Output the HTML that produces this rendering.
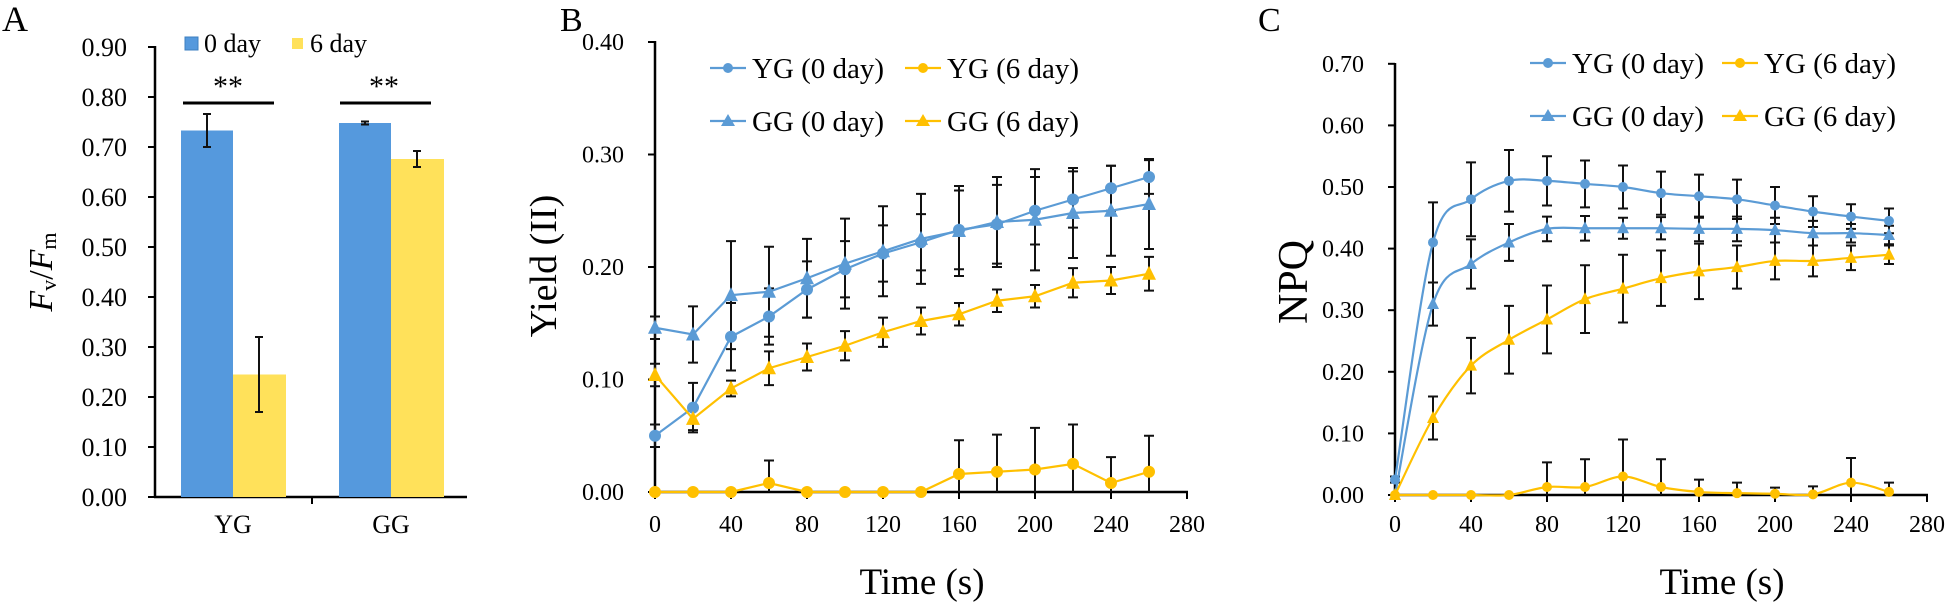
<!DOCTYPE html>
<html>
<head>
<meta charset="utf-8">
<style>
  html, body { margin: 0; padding: 0; background: #ffffff; }
  svg { display: block; font-family: "Liberation Serif", "Times New Roman", serif; }
</style>
</head>
<body>
<svg id="fig" width="1949" height="602" viewBox="0 0 1949 602" xmlns="http://www.w3.org/2000/svg">
  <!-- Panel A static -->
  <g>
    <text x="2" y="31" font-size="36">A</text>
    <line x1="155" y1="46" x2="155" y2="498" stroke="#000" stroke-width="2.5"/>
    <line x1="154" y1="497" x2="467" y2="497" stroke="#000" stroke-width="2.5"/>
    <text transform="translate(52,272) rotate(-90)" text-anchor="middle" font-size="34"><tspan font-style="italic">F</tspan><tspan font-size="22" dy="4">v</tspan><tspan dy="-4">/</tspan><tspan font-style="italic">F</tspan><tspan font-size="22" dy="4">m</tspan></text>
    <g>
      <rect x="185" y="37" width="13" height="13" fill="#5599dd" stroke="#3d7fc0" stroke-width="1"/>
      <text x="204" y="52" font-size="26">0 day</text>
      <rect x="292" y="38" width="11" height="11" fill="#ffe15a"/>
      <text x="310" y="52" font-size="26">6 day</text>
    </g>
    <g>
      <line x1="183" y1="103" x2="274" y2="103" stroke="#000" stroke-width="3"/>
      <text x="228" y="96" text-anchor="middle" font-size="30">**</text>
    </g>
    <g>
      <line x1="340" y1="103" x2="431" y2="103" stroke="#000" stroke-width="3"/>
      <text x="384" y="96" text-anchor="middle" font-size="30">**</text>
    </g>
    <g id="a-plot"></g>
  </g>

  <!-- Panel B static -->
  <g>
    <text x="560" y="31" font-size="34">B</text>
    <line x1="655" y1="41" x2="655" y2="493" stroke="#000" stroke-width="2.5"/>
    <line x1="654" y1="492" x2="1188" y2="492" stroke="#000" stroke-width="2.5"/>
    <text transform="translate(556,266) rotate(-90)" text-anchor="middle" font-size="38">Yield (II)</text>
    <text x="922" y="594" text-anchor="middle" font-size="37">Time (s)</text>
    <g id="b-plot"></g>
  </g>

  <!-- Panel C static -->
  <g>
    <text x="1258" y="31" font-size="34">C</text>
    <line x1="1395" y1="63" x2="1395" y2="496" stroke="#000" stroke-width="2.5"/>
    <line x1="1394" y1="495" x2="1928" y2="495" stroke="#000" stroke-width="2.5"/>
    <text transform="translate(1307,282) rotate(-90)" text-anchor="middle" font-size="42">NPQ</text>
    <text x="1722" y="594" text-anchor="middle" font-size="37">Time (s)</text>
    <g id="c-plot"></g>
  </g>
</svg>

<script>
// ---------- Panel A data ----------
const barCategories = ["YG", "GG"];
const barDay0 = [0.733, 0.748];
const barDay6 = [0.245, 0.676];
const barErr0 = [0.033, 0.003];
const barErr6 = [0.075, 0.016];
const aTicks = ["0.00","0.10","0.20","0.30","0.40","0.50","0.60","0.70","0.80","0.90"];

// ---------- Panel B data ----------
const timeB = [0, 20, 40, 60, 80, 100, 120, 140, 160, 180, 200, 220, 240, 260];
const bYG0 = [0.050, 0.075, 0.138, 0.156, 0.180, 0.198, 0.212, 0.222, 0.233, 0.238, 0.250, 0.260, 0.270, 0.280];
const bYG0err = [0.010, 0.022, 0.030, 0.025, 0.025, 0.025, 0.025, 0.025, 0.035, 0.035, 0.030, 0.025, 0.020, 0.015];
const bGG0 = [0.146, 0.140, 0.175, 0.178, 0.190, 0.203, 0.214, 0.225, 0.232, 0.240, 0.242, 0.248, 0.250, 0.256];
const bGG0err = [0.010, 0.025, 0.048, 0.040, 0.035, 0.040, 0.040, 0.040, 0.040, 0.040, 0.045, 0.040, 0.040, 0.040];
const bYG6 = [0, 0, 0, 0.008, 0, 0, 0, 0, 0.016, 0.018, 0.020, 0.025, 0.008, 0.018];
const bYG6err = [0, 0, 0, 0.020, 0, 0, 0, 0, 0.030, 0.033, 0.037, 0.035, 0.023, 0.032];
const bGG6 = [0.104, 0.065, 0.092, 0.110, 0.120, 0.130, 0.142, 0.152, 0.158, 0.170, 0.174, 0.186, 0.188, 0.194];
const bGG6err = [0.010, 0.010, 0.007, 0.015, 0.012, 0.013, 0.013, 0.012, 0.010, 0.010, 0.010, 0.013, 0.012, 0.015];
const bYTicks = ["0.00","0.10","0.20","0.30","0.40"];
const xTickLabels = ["0","40","80","120","160","200","240","280"];

// ---------- Panel C data ----------
const timeC = [0, 20, 40, 60, 80, 100, 120, 140, 160, 180, 200, 220, 240, 260];
const cYG0 = [0.025, 0.410, 0.480, 0.510, 0.510, 0.505, 0.500, 0.490, 0.485, 0.480, 0.470, 0.460, 0.452, 0.445];
const cYG0err = [0.005, 0.065, 0.060, 0.050, 0.040, 0.038, 0.035, 0.035, 0.035, 0.032, 0.030, 0.025, 0.020, 0.020];
const cGG0 = [0, 0.310, 0.375, 0.410, 0.432, 0.433, 0.433, 0.433, 0.432, 0.432, 0.430, 0.425, 0.425, 0.422];
const cGG0err = [0, 0.035, 0.040, 0.030, 0.020, 0.020, 0.017, 0.018, 0.020, 0.020, 0.020, 0.020, 0.015, 0.015];
const cYG6 = [0, 0, 0, 0, 0.013, 0.013, 0.030, 0.013, 0.005, 0.003, 0.002, 0.001, 0.020, 0.005];
const cYG6err = [0, 0, 0, 0, 0.040, 0.045, 0.060, 0.045, 0.020, 0.017, 0.010, 0.013, 0.040, 0.015];
const cGG6 = [0, 0.125, 0.210, 0.252, 0.285, 0.318, 0.335, 0.352, 0.363, 0.370, 0.380, 0.380, 0.385, 0.390];
const cGG6err = [0, 0.035, 0.045, 0.055, 0.055, 0.055, 0.055, 0.045, 0.045, 0.035, 0.030, 0.025, 0.020, 0.015];
const cYTicks = ["0.00","0.10","0.20","0.30","0.40","0.50","0.60","0.70"];

const NS = "http://www.w3.org/2000/svg";
const BLUE = "#5b9bd5", YELLOW = "#ffc000";
function mk(tag, attrs, parent) {
  const e = document.createElementNS(NS, tag);
  for (const k in attrs) e.setAttribute(k, attrs[k]);
  parent.appendChild(e);
  return e;
}

// ---------- Panel A ----------
(function () {
  const g = document.getElementById("a-plot");
  const yA = v => 497 - v * 500;
  const groupX = i => 233 + i * 158; // category centre
  aTicks.forEach((lab, i) => {
    const v = parseFloat(lab);
    const t = mk("line", {x1: 148, x2: 155, y1: yA(v), y2: yA(v), stroke: "#000", "stroke-width": 2}, g);
    
    
    const tx = mk("text", {x: 127, y: yA(v) + 9, "text-anchor": "end", "font-size": 26}, g);
    
    
    tx.textContent = lab;
  });
  const mid = mk("line", {x1: 312, x2: 312, y1: 497, y2: 504, stroke: "#000", "stroke-width": 2}, g);
  
  
  barCategories.forEach((cat, i) => {
    const cx = groupX(i);
    const b0 = mk("rect", {x: cx - 52, y: yA(barDay0[i]), width: 52, height: yA(0) - yA(barDay0[i]), fill: "#5599dd"}, g);
    
    
    const b6 = mk("rect", {x: cx, y: yA(barDay6[i]), width: 53, height: yA(0) - yA(barDay6[i]), fill: "#ffe15a"}, g);
    
    
    [[cx - 26, barDay0[i], barErr0[i]], [cx + 26, barDay6[i], barErr6[i]]].forEach(([x, v, e]) => {
      const eg = mk("path", {d: `M${x},${yA(v + e)}V${yA(v - e)}M${x - 4},${yA(v + e)}h8M${x - 4},${yA(v - e)}h8`, stroke: "#111", "stroke-width": 2, fill: "none"}, g);
      
      
    });
    const lab = mk("text", {x: cx, y: 533, "text-anchor": "middle", "font-size": 26}, g);
    
    
    lab.textContent = cat;
  });
})();

// ---------- line chart helpers ----------
function smoothPath(pts) {
  let d = `M${pts[0][0]},${pts[0][1]}`;
  for (let i = 0; i < pts.length - 1; i++) {
    const p0 = pts[Math.max(0, i - 1)], p1 = pts[i], p2 = pts[i + 1], p3 = pts[Math.min(pts.length - 1, i + 2)];
    const c1x = p1[0] + (p2[0] - p0[0]) / 6, c1y = p1[1] + (p2[1] - p0[1]) / 6;
    const c2x = p2[0] - (p3[0] - p1[0]) / 6, c2y = p2[1] - (p3[1] - p1[1]) / 6;
    d += ` C${c1x},${c1y} ${c2x},${c2y} ${p2[0]},${p2[1]}`;
  }
  return d;
}
function linePanel(gid, xs, yf, xf, series, yTicks, smooth, r, legendX, legendY, colGap) {
  const g = document.getElementById(gid);
  yTicks.forEach(lab => {
    const v = parseFloat(lab);
    const t = mk("line", {x1: xf(0) - 7, x2: xf(0), y1: yf(v), y2: yf(v), stroke: "#000", "stroke-width": 2}, g);
    
    
    const tx = mk("text", {x: xf(0) - 31, y: yf(v) + 8, "text-anchor": "end", "font-size": 24}, g);
    
    
    tx.textContent = lab;
  });
  xTickLabels.forEach(lab => {
    const v = parseFloat(lab);
    const t = mk("line", {x1: xf(v), x2: xf(v), y1: yf(0), y2: yf(0) + 7, stroke: "#000", "stroke-width": 2}, g);
    
    
    const tx = mk("text", {x: xf(v), y: 532, "text-anchor": "middle", "font-size": 24}, g);
    
    
    tx.textContent = lab;
  });
  // error bars first
  series.forEach(s => {
    s.vals.forEach((v, i) => {
      const e = s.err[i];
      if (e <= 0) return;
      const x = xf(xs[i]);
      const lo = Math.max(0, v - e);
      const eb = mk("path", {d: `M${x},${yf(v + e)}V${yf(lo)}M${x - 5},${yf(v + e)}h10` + (lo > 0 ? `M${x - 5},${yf(lo)}h10` : ""), stroke: "#111", "stroke-width": 2, fill: "none"}, g);
      
      
    });
  });
  series.forEach(s => {
    const pts = s.vals.map((v, i) => [xf(xs[i]), yf(v)]);
    const d = smooth ? smoothPath(pts) : "M" + pts.map(p => p.join(",")).join("L");
    const ln = mk("path", {d: d, stroke: s.color, "stroke-width": 2.2, fill: "none"}, g);
    
    
    pts.forEach(p => {
      const m = s.tri
        ? mk("polygon", {points: `${p[0]},${p[1] - r - 2} ${p[0] - r - 1},${p[1] + r} ${p[0] + r + 1},${p[1] + r}`, fill: s.color}, g)
        : mk("circle", {cx: p[0], cy: p[1], r: r, fill: s.color}, g);
      
      
    });
  });
  // legend
  const lg = mk("g", {}, g);
  
  
  const order = [["yg0", 0, 0], ["yg6", 1, 0], ["gg0", 0, 1], ["gg6", 1, 1]];
  order.forEach(([key, col, row]) => {
    const s = series.find(q => q.key === key);
    const x = legendX + col * colGap, y = legendY + row * 53;
    const ent = mk("g", {}, lg);
    
    
    mk("line", {x1: x, x2: x + 36, y1: y, y2: y, stroke: s.color, "stroke-width": 2.2}, ent);
    if (s.tri) mk("polygon", {points: `${x + 18},${y - 7} ${x + 11},${y + 5} ${x + 25},${y + 5}`, fill: s.color}, ent);
    else mk("circle", {cx: x + 18, cy: y, r: 5, fill: s.color}, ent);
    const t = mk("text", {x: x + 42, y: y + 10, "font-size": 29}, ent);
    t.textContent = s.label;
  });
}

linePanel("b-plot", timeB, v => 492 - v * 1125, t => 655 + 1.9 * t, [
  {key: "yg0", label: "YG (0 day)", vals: bYG0, err: bYG0err, color: BLUE, tri: false},
  {key: "gg0", label: "GG (0 day)", vals: bGG0, err: bGG0err, color: BLUE, tri: true},
  {key: "gg6", label: "GG (6 day)", vals: bGG6, err: bGG6err, color: YELLOW, tri: true},
  {key: "yg6", label: "YG (6 day)", vals: bYG6, err: bYG6err, color: YELLOW, tri: false}
], bYTicks, false, 6, 710, 68, 195);

linePanel("c-plot", timeC, v => 495 - v * 616, t => 1395 + 1.9 * t, [
  {key: "yg0", label: "YG (0 day)", vals: cYG0, err: cYG0err, color: BLUE, tri: false},
  {key: "gg0", label: "GG (0 day)", vals: cGG0, err: cGG0err, color: BLUE, tri: true},
  {key: "gg6", label: "GG (6 day)", vals: cGG6, err: cGG6err, color: YELLOW, tri: true},
  {key: "yg6", label: "YG (6 day)", vals: cYG6, err: cYG6err, color: YELLOW, tri: false}
], cYTicks, true, 5, 1530, 63, 192);
</script>
</body>
</html>
